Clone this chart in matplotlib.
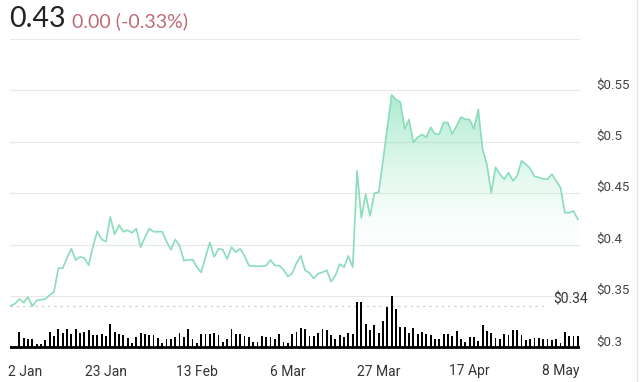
import numpy as np
import pandas as pd
import matplotlib
matplotlib.use('Agg')
import matplotlib.pyplot as plt
from matplotlib.transforms import ScaledTranslation
from matplotlib.colors import LinearSegmentedColormap

# daily close price, 1 Jan .. 12 May
prices = [
    0.3405, 0.3425, 0.347, 0.3435, 0.349, 0.340, 0.3457, 0.3464, 0.347, 0.351,
    0.354, 0.377, 0.377, 0.387, 0.396, 0.385, 0.388, 0.387, 0.380, 0.398,
    0.413, 0.405, 0.403, 0.427, 0.410, 0.419, 0.4125, 0.414, 0.4115, 0.4155,
    0.3975, 0.407, 0.4155, 0.4125, 0.4125, 0.4125, 0.403, 0.395, 0.405, 0.399,
    0.3845, 0.385, 0.3855, 0.378, 0.373, 0.388, 0.402, 0.388, 0.396, 0.395,
    0.386, 0.3975, 0.3926, 0.396, 0.389, 0.3796, 0.379, 0.379, 0.379, 0.3796,
    0.385, 0.3796, 0.3796, 0.3757, 0.369, 0.3718, 0.382, 0.389, 0.375, 0.3725,
    0.367, 0.3718, 0.373, 0.375, 0.364, 0.370, 0.381, 0.378, 0.389, 0.378,
    0.4717, 0.426, 0.449, 0.428, 0.450, 0.451, 0.482, 0.514, 0.5457, 0.541,
    0.5386, 0.5125, 0.5216, 0.4996, 0.5045, 0.507, 0.5045, 0.514, 0.5075, 0.5075,
    0.519, 0.5185, 0.5075, 0.5155, 0.524, 0.522, 0.5216, 0.5125, 0.5314, 0.4927,
    0.478, 0.4506, 0.4751, 0.4685, 0.4636, 0.470, 0.462, 0.467, 0.4815, 0.478,
    0.474, 0.4663, 0.4653, 0.464, 0.4636, 0.4685, 0.462, 0.4555, 0.431, 0.431,
    0.4327, 0.4245,
]

# daily volume (millions)
volumes = [
    1, 1, 15, 9, 8, 8, 3, 3, 7, 15, 11, 18, 14, 18, 13, 18, 14, 15, 17, 12,
    12, 13, 11, 23, 15, 13, 12, 9, 4, 10, 14, 13, 12, 12, 9, 4, 8, 8, 10, 14,
    10, 18, 8, 4,
    13, 13, 13, 14, 12, 5, 8, 18, 13, 13, 11, 10, 5, 5, 11, 10, 10, 8, 13, 5,
    4, 13, 15, 19, 18, 11, 11, 14, 18, 17, 12, 8, 12, 10, 14, 13, 45, 45, 23, 17,
    22, 14, 26, 40, 51, 38,
    20, 20, 14, 19, 13, 15, 13, 12, 8, 8, 13, 13, 11, 16, 8, 5, 10, 10, 6, 22,
    16, 14, 9, 8, 13, 12, 17, 17, 12, 7, 8, 9, 9, 8, 8, 7, 8, 4, 15, 11,
    11, 11,
]

dates = pd.date_range('2023-01-01', periods=len(prices), freq='D')
tick_dates = pd.to_datetime(['2023-01-02', '2023-01-23', '2023-02-13', '2023-03-06',
                             '2023-03-27', '2023-04-17', '2023-05-08'])
tick_labels = ['2 Jan', '23 Jan', '13 Feb', '6 Mar', '27 Mar', '17 Apr', '8 May']
y_ticks = [0.3, 0.35, 0.4, 0.45, 0.5, 0.55, 0.6]
y_labels = ['$0.3', '$0.35', '$0.4', '$0.45', '$0.5', '$0.55', '']

last_price = '0.43'
change_text = '0.00 (-0.33%)'
ref_price = 0.34

plt.rcParams['font.family'] = ['Roboto', 'DejaVu Sans']

fig = plt.figure(figsize=(6.4, 3.82), dpi=100)
ax = fig.add_axes([10 / 640, 30 / 382, 570 / 640, 313 / 382])
y0, y1 = 0.2955, 0.6
ax.set_ylim(y0, y1)
x_lo = dates[0] - pd.Timedelta(hours=4)
x_hi = dates[-1] + pd.Timedelta(hours=12)
ax.set_xlim(x_lo, x_hi)

line_col = '#8adcbb'

# gradient fill under the price line
poly = ax.fill_between(dates, prices, y0, color='none', lw=0)
cmap = LinearSegmentedColormap.from_list(
    'mint', [(1, 1, 1, 0), (0.55, 0.9, 0.74, 0.25), (0.42, 0.86, 0.66, 0.62)])
grad = np.linspace(0, 1, 256).reshape(-1, 1)
grad = np.clip((grad - 0.3) / 0.7, 0, 1)
img = ax.imshow(grad, cmap=cmap, aspect='auto', origin='lower',
                extent=[matplotlib.dates.date2num(x_lo), matplotlib.dates.date2num(x_hi), y0, 0.56],
                zorder=1)
img.set_clip_path(poly.get_paths()[0], transform=ax.transData)

ax.plot(dates, prices, color=line_col, lw=1.2, zorder=3)

# volume bars sitting on the 0.3 line
k = (0.3497 - 0.3) / max(volumes)
ax.bar(dates, np.array(volumes) * k, bottom=0.3, width=0.42, color='black', zorder=4)
ax.axhline(0.3, color='black', lw=2, zorder=5)

# reference price dotted line
ax.axhline(ref_price, xmin=0, xmax=0.94, color='#d2d2d2', lw=0.9, ls=(0, (2, 3)), zorder=2)
ax.text(0.953, 0.3468, '$' + str(ref_price), transform=ax.get_yaxis_transform(),
        ha='left', va='center', fontsize=10, color='#333333', clip_on=False)

# grid / axes
ax.set_yticks(y_ticks)
ax.set_yticklabels(y_labels)
ax.yaxis.tick_right()
ax.tick_params(axis='y', length=0, pad=12, labelsize=9.5, labelcolor='#444444')
ax.grid(axis='y', color='#e8e8e8', lw=0.9, zorder=0)
ax.set_axisbelow(True)
offset = ScaledTranslation(0, 7 / 100, fig.dpi_scale_trans)
for lab in ax.get_yticklabels():
    lab.set_transform(lab.get_transform() + offset)

ax.set_xticks(tick_dates)
ax.set_xticklabels(tick_labels)
ax.tick_params(axis='x', length=0, pad=9, labelsize=10, labelcolor='#333333')
first = ax.get_xticklabels()[0]
first.set_transform(first.get_transform() + ScaledTranslation(10 / 100, 0, fig.dpi_scale_trans))

for s in ax.spines.values():
    s.set_visible(False)

# header
fig.text(9 / 640, 1 - 27 / 382, last_price, fontsize=20.5, color='#222222',
         family=['Lato', 'DejaVu Sans'], va='baseline')
fig.text(72 / 640, 1 - 27 / 382, change_text, fontsize=14, color='#bf6b77',
         family=['Lato', 'DejaVu Sans'], va='baseline')

# right border
fig.add_artist(plt.Line2D([637 / 640, 637 / 640], [0, 1], color='#e4e4e4', lw=1))

fig.savefig('out.png', dpi=100)
